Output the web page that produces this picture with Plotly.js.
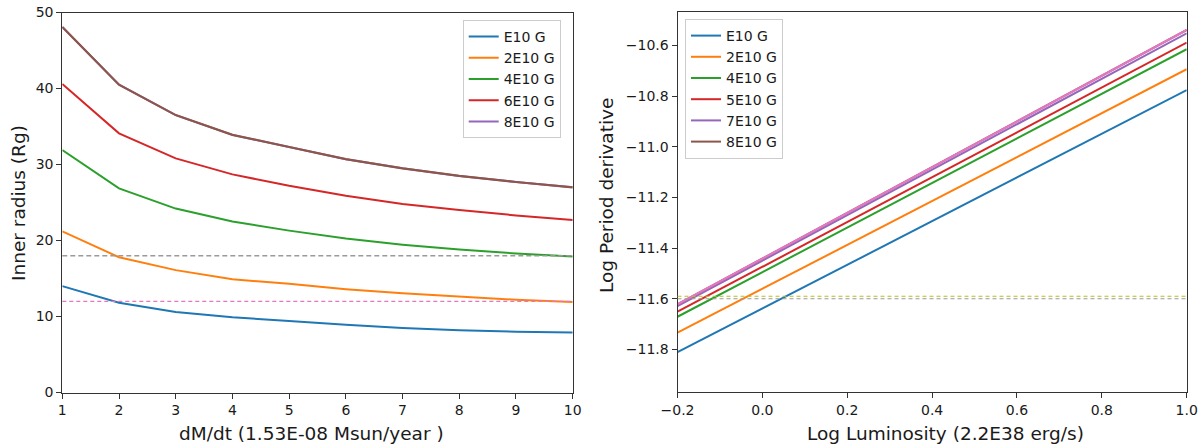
<!DOCTYPE html>
<html>
<head>
<meta charset="utf-8">
<script src="https://cdn.plot.ly/plotly-3.0.1.min.js"></script>
<style>html,body{margin:0;padding:0;background:#fff;}#chart{width:1203px;height:445px;}</style>
</head>
<body>
<div id="chart"></div>
<script>
// ---------- Left panel data ----------
const leftX = [1, 2, 3, 4, 5, 6, 7, 8, 9, 10];
const leftLabels = ["E10 G", "2E10 G", "4E10 G", "6E10 G", "8E10 G"];
const leftE10 = [14.0, 11.8, 10.6, 9.9, 9.4, 8.9, 8.5, 8.2, 8.0, 7.9];
const left2E10 = [21.2, 17.8, 16.1, 14.9, 14.3, 13.6, 13.05, 12.6, 12.2, 11.9];
const left4E10 = [31.9, 26.85, 24.2, 22.5, 21.3, 20.25, 19.45, 18.8, 18.3, 17.9];
const left6E10 = [40.6, 34.1, 30.8, 28.7, 27.2, 25.9, 24.8, 24.0, 23.3, 22.7];
const left8E10 = [48.1, 40.5, 36.5, 33.9, 32.3, 30.7, 29.5, 28.5, 27.7, 27.0];
const leftExtra = [48.1, 40.5, 36.5, 33.9, 32.3, 30.7, 29.5, 28.5, 27.7, 27.0];
const leftRefLevels = [12, 18];

// ---------- Right panel data ----------
const rightX = [-0.2, 1.0];
const rightLabels = ["E10 G", "2E10 G", "4E10 G", "5E10 G", "7E10 G", "8E10 G"];
const rightE10 = [-11.811, -10.776];
const right2E10 = [-11.734, -10.694];
const right4E10 = [-11.671, -10.615];
const right5E10 = [-11.651, -10.589];
const right7E10 = [-11.629, -10.552];
const right8E10 = [-11.622, -10.539];
const rightExtra = [-11.622, -10.539];
const rightRefLevels = [-11.60, -11.59];

const C = ["#1f77b4", "#ff7f0e", "#2ca02c", "#d62728", "#9467bd", "#8c564b", "#e377c2", "#7f7f7f", "#bcbd22"];
const FONT = "DejaVu Sans, sans-serif";
const TXT = "#1a1a1a";

const traces = [];
const leftSeries = [leftE10, left2E10, left4E10, left6E10, left8E10];
leftSeries.forEach((ys, i) => {
  traces.push({x: leftX, y: ys, type: "scatter", mode: "lines", name: leftLabels[i],
    line: {color: C[i], width: 2}, xaxis: "x", yaxis: "y", legend: "legend"});
});
traces.push({x: leftX, y: leftExtra, type: "scatter", mode: "lines", showlegend: false,
  line: {color: C[5], width: 2.2}, xaxis: "x", yaxis: "y", hoverinfo: "skip"});

const rightSeries = [rightE10, right2E10, right4E10, right5E10, right7E10, right8E10];
rightSeries.forEach((ys, i) => {
  traces.push({x: rightX, y: ys, type: "scatter", mode: "lines", name: rightLabels[i],
    line: {color: C[i], width: 2}, xaxis: "x2", yaxis: "y2", legend: "legend2"});
});
traces.push({x: rightX, y: rightExtra, type: "scatter", mode: "lines", showlegend: false,
  line: {color: C[6], width: 2.2}, xaxis: "x2", yaxis: "y2", hoverinfo: "skip"});

const W = 1203, H = 445;
const px = v => v / W;
const py = v => 1 - v / H;

const axisCommon = {
  showgrid: false, zeroline: false, showline: true, mirror: true,
  linecolor: "#333333", linewidth: 1, ticks: "outside", ticklen: 5, tickwidth: 1,
  tickcolor: "#333333", tickfont: {family: FONT, size: 14, color: TXT}, automargin: false
};

const shapes = [
  {type: "line", xref: "x domain", yref: "y", x0: 0, x1: 1, y0: leftRefLevels[0], y1: leftRefLevels[0],
    line: {color: C[6], width: 1.3, dash: "4px,3px"}},
  {type: "line", xref: "x domain", yref: "y", x0: 0, x1: 1, y0: leftRefLevels[1], y1: leftRefLevels[1],
    line: {color: "#9a9a9a", width: 1.5, dash: "5px,3px"}},
  {type: "line", xref: "x2 domain", yref: "y2", x0: 0, x1: 1, y0: rightRefLevels[0], y1: rightRefLevels[0],
    line: {color: "#9a9a9a", width: 1.2, dash: "4px,3px"}},
  {type: "line", xref: "x2 domain", yref: "y2", x0: 0, x1: 1, y0: rightRefLevels[1], y1: rightRefLevels[1],
    line: {color: C[8], width: 1.2, dash: "4px,3px"}}
];

const tfont = {family: FONT, size: 18.5, color: TXT};
const annotations = [
  {text: "dM/dt (1.53E-08 Msun/year )", xref: "paper", yref: "paper", x: px(311), y: py(433),
    xanchor: "center", yanchor: "middle", showarrow: false, font: tfont},
  {text: "Inner radius (Rg)", xref: "paper", yref: "paper", x: px(18), y: py(203),
    xanchor: "center", yanchor: "middle", showarrow: false, font: tfont, textangle: -90},
  {text: "Log Luminosity (2.2E38 erg/s)", xref: "paper", yref: "paper", x: px(946), y: py(433),
    xanchor: "center", yanchor: "middle", showarrow: false, font: tfont},
  {text: "Log Period derivative", xref: "paper", yref: "paper", x: px(606), y: py(196),
    xanchor: "center", yanchor: "middle", showarrow: false, font: tfont, textangle: -90}
];

const legendCommon = {
  bgcolor: "rgba(255,255,255,0.8)", bordercolor: "#cccccc", borderwidth: 1,
  font: {family: FONT, size: 14, color: TXT}, xanchor: "left", yanchor: "top",
  tracegroupgap: 0, itemwidth: 30
};

const layout = {
  width: W, height: H,
  margin: {l: 0, r: 0, t: 0, b: 0},
  paper_bgcolor: "#ffffff", plot_bgcolor: "#ffffff",
  font: {family: FONT, color: TXT},
  xaxis: Object.assign({}, axisCommon, {domain: [px(62.3), px(572.7)], range: [1, 10],
    tickmode: "linear", tick0: 1, dtick: 1, anchor: "y"}),
  yaxis: Object.assign({}, axisCommon, {domain: [py(392.5), py(12.5)], range: [0, 50],
    tickmode: "linear", tick0: 0, dtick: 10, anchor: "x"}),
  xaxis2: Object.assign({}, axisCommon, {domain: [px(677.5), px(1186.7)], range: [-0.2, 1.0],
    tickmode: "linear", tick0: -0.2, dtick: 0.2, tickformat: ".1f", anchor: "y2"}),
  yaxis2: Object.assign({}, axisCommon, {domain: [py(392), py(12)], range: [-11.968, -10.468],
    tickmode: "linear", tick0: -11.8, dtick: 0.2, tickformat: ".1f", anchor: "x2"}),
  legend: Object.assign({}, legendCommon, {x: px(462.7), y: py(20)}),
  legend2: Object.assign({}, legendCommon, {x: px(685), y: py(19)}),
  shapes: shapes,
  annotations: annotations,
  showlegend: true
};

Plotly.newPlot("chart", traces, layout, {displayModeBar: false, staticPlot: true});
</script>
</body>
</html>
